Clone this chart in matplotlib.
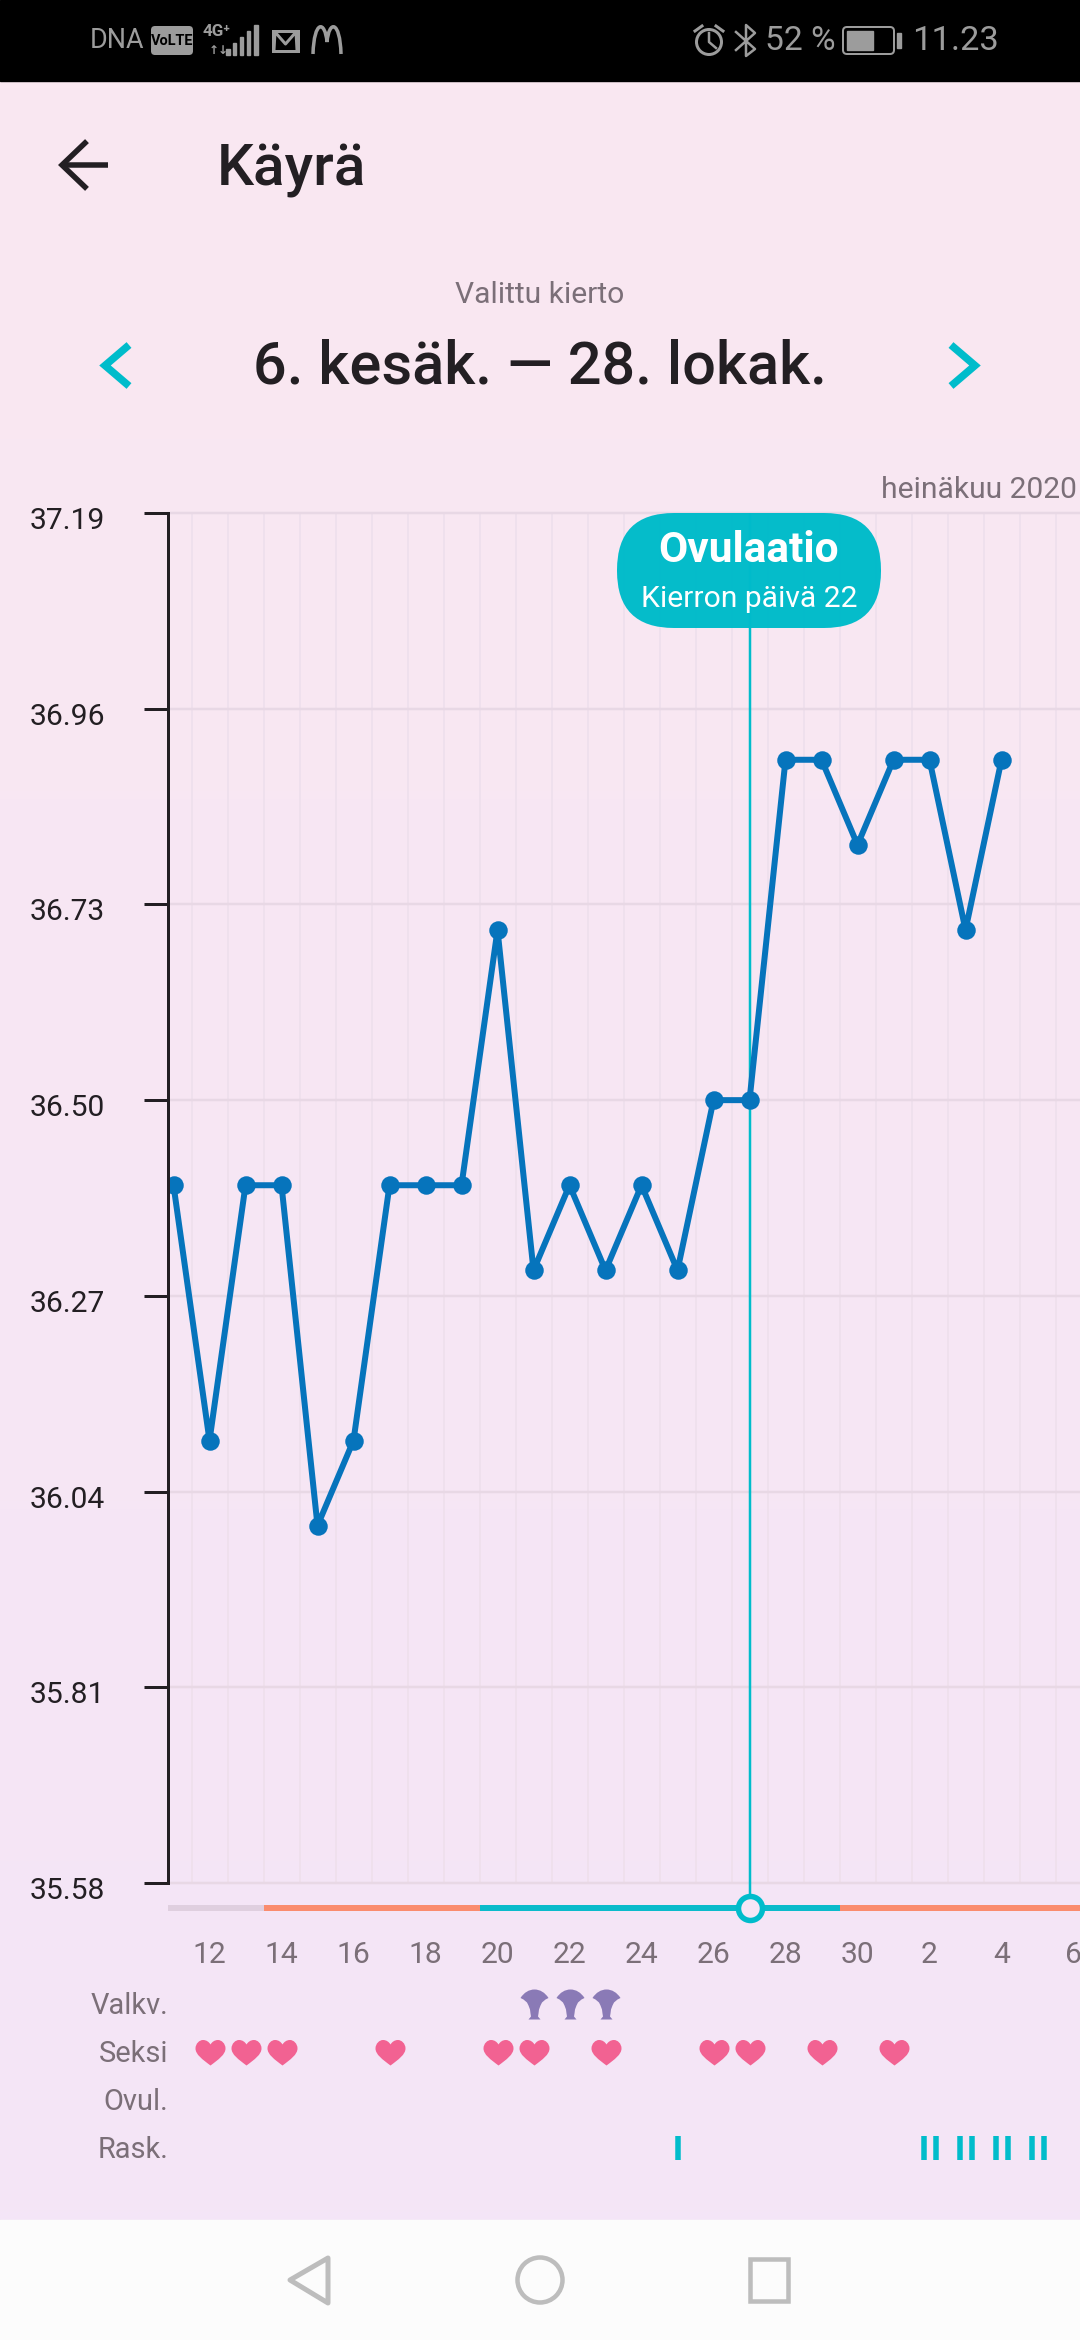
import numpy as np
import matplotlib
matplotlib.use('Agg')
import matplotlib.pyplot as plt
from matplotlib.path import Path
from matplotlib.patches import FancyBboxPatch, PathPatch, Circle, Rectangle, Polygon
from matplotlib.transforms import ScaledTranslation

plt.rcParams['font.family'] = ['Roboto', 'DejaVu Sans']

# chart data
days = list(range(11, 35))
temps = [36.4, 36.1, 36.4, 36.4, 36.0, 36.1, 36.4, 36.4, 36.4, 36.7, 36.3, 36.4,
         36.3, 36.4, 36.3, 36.5, 36.5, 36.9, 36.9, 36.8, 36.9, 36.9, 36.7, 36.9]
y_ticks = [35.58, 35.81, 36.04, 36.27, 36.50, 36.73, 36.96, 37.19]
x_tick_days = [12, 14, 16, 18, 20, 22, 24, 26, 28, 30, 32, 34, 36]
x_tick_labels = ['12', '14', '16', '18', '20', '22', '24', '26', '28', '30', '2', '4', '6']
ovulation_day = 27
phase_edges = [10.85, 13.5, 19.5, 29.5, 36.2]
phase_colors = ['#DFCFDF', '#FA8C6E', '#0ABBCB', '#FA8C6E']
mucus_days = [21, 22, 23]
sex_days = [12, 13, 14, 17, 20, 21, 23, 26, 27, 29, 31]
test_single_days = [25]
test_double_days = [32, 33, 34, 35]
row_labels = ['Valkv.', 'Seksi', 'Ovul.', 'Rask.']

W, H = 1080, 2340
TEAL = '#00BCCB'
GREY = '#7B6F78'
DARK = '#231F23'
STATUS = '#9C9C9C'


def px_axes(left, top, right, bottom, **kw):
    # axes placed by pixel box, y counted from the top of the screen
    return fig.add_axes([left / W, 1 - bottom / H, (right - left) / W, (bottom - top) / H], **kw)


def fs(px):
    return px * 0.72


def lw(px):
    return px * 0.72


fig = plt.figure(figsize=(10.8, 23.4), dpi=100)

# background
bg = px_axes(0, 0, W, H, zorder=0)
bg.set_xlim(0, W)
bg.set_ylim(H, 0)
bg.axis('off')
grad = np.linspace(0, 1, 256)[:, None, None]
c0 = np.array(matplotlib.colors.to_rgb('#FAE8F1'))
c1 = np.array(matplotlib.colors.to_rgb('#F4E5F7'))
bg.imshow(c0 + (c1 - c0) * grad, extent=[0, W, 2220, 80], aspect='auto', zorder=0)
bg.set_xlim(0, W)
bg.set_ylim(H, 0)
bg.add_patch(Rectangle((0, 0), W, 81, color='black', zorder=1))
bg.add_patch(Rectangle((0, 2220), W, 120, color='#FCFCFC', zorder=1))

# temperature chart
ax = px_axes(168, 513, W, 1883, zorder=1)
ax.patch.set_alpha(0)
ax.set_xlim(10.847, 36.18)
ax.set_ylim(35.58, 37.19)
for s in ['top', 'right', 'bottom']:
    ax.spines[s].set_visible(False)
ax.spines['left'].set_linewidth(lw(3))
ax.spines['left'].set_color(DARK)
ax.set_yticks(y_ticks)
ax.set_yticklabels(['%.2f' % v for v in y_ticks])
ax.tick_params(axis='y', length=lw(24), width=lw(3), color=DARK, labelcolor=DARK,
               labelsize=fs(30), pad=lw(39))
shift = ScaledTranslation(0, -5 / 100, fig.dpi_scale_trans)
for t in ax.get_yticklabels():
    t.set_transform(t.get_transform() + shift)
ax.set_xticks(x_tick_days)
ax.set_xticklabels(x_tick_labels)
ax.tick_params(axis='x', length=0, labelcolor=GREY, labelsize=fs(30), pad=lw(58))
ax.set_xticks(np.arange(11.5, 36.5, 1), minor=True)
ax.tick_params(axis='x', which='minor', length=0)
ax.grid(True, axis='y', which='major', color='#E8D8E5', lw=lw(2.5), clip_on=False)
ax.grid(True, axis='x', which='minor', color='#EFE0ED', lw=lw(2))
ax.set_axisbelow(True)
ax.plot(days, temps, color='#0674BC', lw=lw(6), marker='o', ms=lw(18.5), mew=0,
        solid_joinstyle='round', zorder=2)
ax.axvline(ovulation_day, color=TEAL, lw=lw(2.5), zorder=1.5)

# phase bar and symptom rows, same x scale as the chart
ev = px_axes(168, 1883, W, 2220, zorder=1.5)
ev.patch.set_alpha(0)
ev.axis('off')
ev.set_xlim(10.847, 36.18)
ev.set_ylim(2220, 1883)
ev.plot([ovulation_day, ovulation_day], [1883, 1908], color=TEAL, lw=lw(2.5))
for i, c in enumerate(phase_colors):
    ev.plot(phase_edges[i:i + 2], [1908, 1908], color=c, lw=lw(6), solid_capstyle='butt', clip_on=True)
ev.scatter([ovulation_day], [1908], s=lw(24) ** 2, facecolor='#F5E6F6', edgecolor=TEAL,
           linewidth=lw(5.5), zorder=5)

heart_v = [(0, -13), (-8, -7), (-15, -2), (-15, 4), (-15, 9), (-11, 12.5), (-7.5, 12.5),
           (-4, 12.5), (-1.5, 10.5), (0, 8), (1.5, 10.5), (4, 12.5), (7.5, 12.5),
           (11, 12.5), (15, 9), (15, 4), (15, -2), (8, -7), (0, -13)]
heart_c = [Path.MOVETO] + [Path.CURVE4] * 18
heart = Path(heart_v, heart_c)
egg_v = [(0, 15), (-5.5, 15), (-10.5, 12), (-14, 6.5), (-11, 5), (-7.5, 2), (-6, -1),
         (-4.5, -5), (-4, -9), (-3.5, -12), (-6, -15), (-6, -15), (-6, -15),
         (6, -15), (6, -15), (6, -15), (3.5, -12), (4, -9), (4.5, -5), (6, -1),
         (7.5, 2), (11, 5), (14, 6.5), (10.5, 12), (5.5, 15), (0, 15)]
egg_c = [Path.MOVETO, Path.CURVE4, Path.CURVE4, Path.CURVE4, Path.LINETO, Path.LINETO, Path.LINETO,
         Path.LINETO, Path.LINETO, Path.LINETO, Path.LINETO, Path.LINETO, Path.LINETO,
         Path.LINETO, Path.LINETO, Path.LINETO, Path.LINETO, Path.LINETO, Path.LINETO, Path.LINETO,
         Path.LINETO, Path.LINETO, Path.LINETO, Path.CURVE4, Path.CURVE4, Path.CURVE4]
egg = Path(egg_v, egg_c)
ev.scatter(mucus_days, [2004] * len(mucus_days), marker=egg, s=lw(30) ** 2, color='#8A7AB6', linewidth=0)
ev.scatter(sex_days, [2052] * len(sex_days), marker=heart, s=lw(30) ** 2, color='#F26292', linewidth=0)
ev.vlines(test_single_days, 2136, 2160, color=TEAL, lw=lw(5.5))
ev.vlines(np.array(test_double_days) - 1 / 6, 2136, 2160, color=TEAL, lw=lw(5.5))
ev.vlines(np.array(test_double_days) + 1 / 6, 2136, 2160, color=TEAL, lw=lw(5.5))

# screen furniture in pixel coordinates
ui = px_axes(0, 0, W, H, zorder=3)
ui.patch.set_alpha(0)
ui.axis('off')
ui.set_xlim(0, W)
ui.set_ylim(H, 0)

for lab, y in zip(row_labels, [2006, 2054, 2102, 2150]):
    ui.text(168, y, lab, ha='right', va='center', color=GREY, fontsize=fs(29))

ui.text(217, 170, 'Käyrä', ha='left', va='center', color=DARK, fontsize=fs(58.5), fontweight='medium')
ui.text(540, 295, 'Valittu kierto', ha='center', va='center', color=GREY, fontsize=fs(30))
ui.text(540, 367, '6. kesäk. — 28. lokak.', ha='center', va='center', color=DARK, fontsize=fs(59.5),
        fontweight='medium')
ui.text(1077, 490, 'heinäkuu 2020', ha='right', va='center', color=GREY, fontsize=fs(30))

# back arrow and chevrons
ui.plot([62, 108], [165, 165], color=DARK, lw=lw(5.5), solid_capstyle='butt')
ui.plot([85, 62, 85], [143, 165, 187], color=DARK, lw=lw(5.5), solid_joinstyle='miter')
ui.plot([129, 105, 129], [345, 365.5, 386], color=TEAL, lw=lw(7.5), solid_joinstyle='miter', solid_capstyle='butt')
ui.plot([951, 975, 951], [345, 365.5, 386], color=TEAL, lw=lw(7.5), solid_joinstyle='miter', solid_capstyle='butt')

# ovulation callout
ui.add_patch(FancyBboxPatch((617 + 57, 513 + 57), 264 - 114, 115 - 114,
                            boxstyle='round,pad=57,rounding_size=57', fc='#00BBCA', ec='none', alpha=0.98))
ui.text(749, 551, 'Ovulaatio', ha='center', va='center', color='white', fontsize=fs(42.5), fontweight='bold')
ui.text(749, 599, 'Kierron päivä 22', ha='center', va='center', color='white', fontsize=fs(30))

# status bar
ui.text(90, 41, 'DNA', ha='left', va='center', color=STATUS, fontsize=fs(27))
ui.add_patch(FancyBboxPatch((154, 29), 36, 23, boxstyle='round,pad=3,rounding_size=4', fc=STATUS, ec='none'))
ui.text(172, 41, 'VoLTE', ha='center', va='center', color='black', fontsize=fs(14.5), fontweight='bold')
ui.text(203, 31, '4G⁺', ha='left', va='center', color=STATUS, fontsize=fs(17), fontweight='bold',
        family=['Roboto', 'DejaVu Sans'])
ui.text(209, 50, '↑↓', ha='left', va='center', color=STATUS, fontsize=fs(12), fontweight='bold',
        family=['DejaVu Sans'])
for bx, top in zip([228, 234.5, 241.5, 248.5, 256], [49, 43, 37, 31, 25]):
    ui.add_patch(Rectangle((bx - 1.8, top), 3.6, 54.5 - top, color=STATUS))
ui.add_patch(Rectangle((273, 31), 25, 20, fc='none', ec=STATUS, lw=lw(3)))
ui.plot([274, 275, 285.5, 296, 297], [50, 32, 44, 32, 50], color=STATUS, lw=lw(3))
arch = Path([(313, 54), (314, 20), (325, 20), (327, 42), (329, 20), (340, 20), (341, 54)],
            [Path.MOVETO, Path.CURVE4, Path.CURVE4, Path.CURVE4, Path.CURVE4, Path.CURVE4, Path.CURVE4])
ui.add_patch(PathPatch(arch, fc='none', ec=STATUS, lw=lw(3.5)))

ui.add_patch(Circle((709, 42), 12.5, fc='none', ec=STATUS, lw=lw(3)))
ui.plot([709, 709, 716], [33, 42, 48], color=STATUS, lw=lw(2.5))
ui.plot([695, 702], [31, 26], color=STATUS, lw=lw(3))
ui.plot([716, 723], [26, 31], color=STATUS, lw=lw(3))
ui.plot([736, 755, 746, 746, 755, 736], [32, 49, 56, 25, 33, 50], color=STATUS, lw=lw(2.5))
ui.text(765, 41, '52 %', ha='left', va='center', color=STATUS, fontsize=fs(33.5))
ui.add_patch(FancyBboxPatch((845, 29), 47, 23, boxstyle='round,pad=2,rounding_size=4', fc='none', ec=STATUS, lw=lw(2)))
ui.add_patch(Rectangle((846.5, 31), 26.5, 19, color=STATUS))
ui.add_patch(Rectangle((897, 33), 4, 15, color=STATUS))
ui.text(912, 41, '11.23', ha='left', va='center', color=STATUS, fontsize=fs(34.5))

# navigation bar
NAV = '#BDBDBD'
ui.add_patch(Polygon([(328, 2258), (328, 2303), (290, 2280)], closed=True, fc='none', ec=NAV, lw=lw(5), joinstyle='round'))
ui.add_patch(Circle((540, 2280), 22.5, fc='none', ec=NAV, lw=lw(4.5)))
ui.add_patch(Rectangle((750, 2259), 38, 42, fc='none', ec=NAV, lw=lw(4.5)))

fig.savefig('out.png', dpi=100)
